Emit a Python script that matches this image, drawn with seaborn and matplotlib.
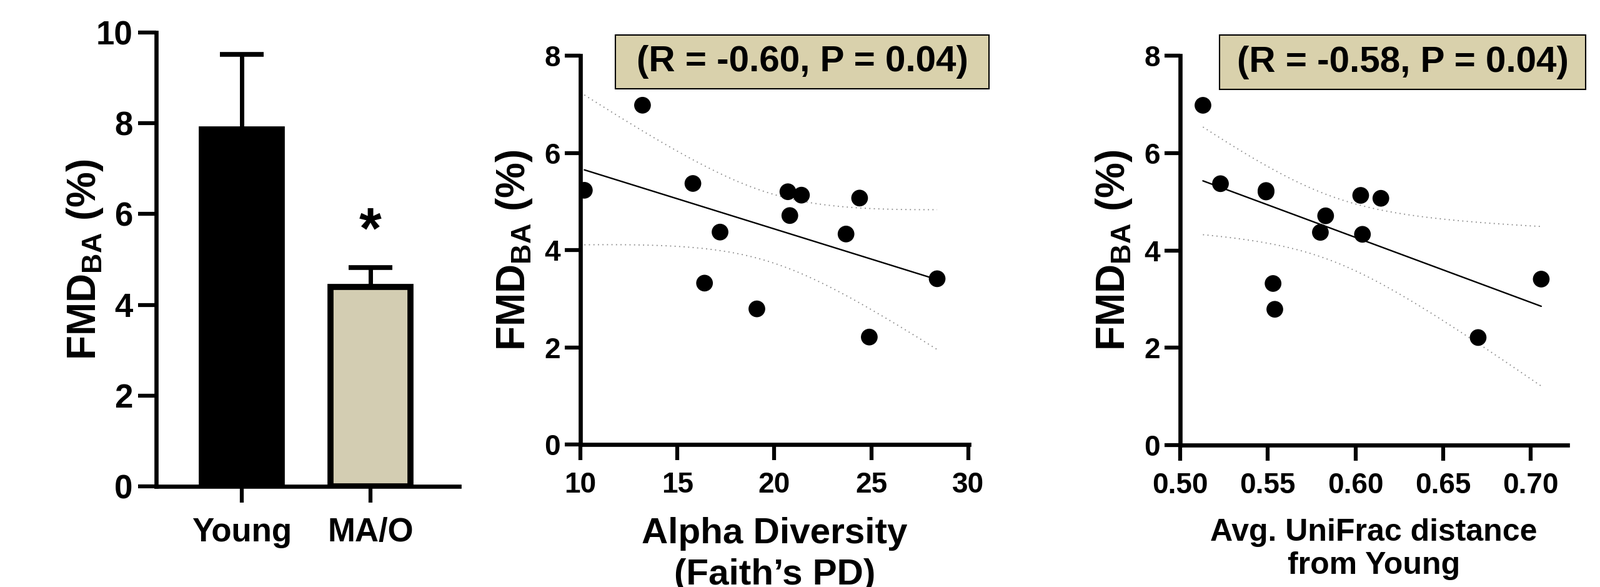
import numpy as np
import matplotlib
matplotlib.use("Agg")
import matplotlib.pyplot as plt
import seaborn as sns
from matplotlib.patches import Rectangle

# FMD vs age group, and FMD vs gut microbiome measures

groups = ["Young", "MA/O"]
fmd_mean = [7.86, 4.40]
fmd_sem = [1.66, 0.42]
bar_colors = ["black", "#d9d1ac"]

# one value per MA/O subject, same order in both scatter panels
fmd = [5.23, 6.98, 5.37, 4.37, 3.32, 2.79, 5.20, 4.71, 5.13, 5.07, 4.33, 2.21, 3.41]
faith_pd = [10.2, 13.2, 15.8, 17.2, 16.4, 19.1, 20.7, 20.8, 21.4, 24.4, 23.7, 24.9, 28.4]
unifrac = [0.549, 0.513, 0.523, 0.580, 0.553, 0.554, 0.549, 0.583, 0.603, 0.6145, 0.604, 0.670, 0.706]

stats_text = ["(R = -0.60, P = 0.04)", "(R = -0.58, P = 0.04)"]
ylab = "FMD$_{\\mathrm{BA}}$ (%)"
tan = "#d9d1ac"

sns.set_style("ticks")
plt.rcParams["font.family"] = ["Liberation Sans", "DejaVu Sans"]
plt.rcParams["font.weight"] = "bold"
plt.rcParams["mathtext.fontset"] = "custom"
plt.rcParams["mathtext.rm"] = "Liberation Sans:bold"
plt.rcParams["mathtext.bf"] = "Liberation Sans:bold"
for key in ("text.color", "axes.labelcolor", "axes.edgecolor", "xtick.color", "ytick.color"):
    plt.rcParams[key] = "black"

fig = plt.figure(figsize=(25.61, 9.39), dpi=100)
ax1 = fig.add_axes([0.0976, 0.1714, 0.1894, 0.7732])
ax2 = fig.add_axes([0.3628, 0.2428, 0.2429, 0.6624])
ax3 = fig.add_axes([0.7376, 0.2417, 0.2421, 0.6635])

# --- bar panel ---
sns.barplot(x=groups, y=fmd_mean, hue=groups, palette=bar_colors, width=0.62,
            edgecolor="black", linewidth=7, errorbar=None, legend=False,
            ax=ax1, zorder=3)
ax1.errorbar(range(len(groups)), fmd_mean, yerr=fmd_sem, fmt="none", ecolor="black",
             elinewidth=5, capsize=25, capthick=5.5, zorder=2)
ax1.text(1, 5.26, "*", ha="center", va="baseline", fontsize=66, fontweight="bold")
ax1.set_xlim(-0.665, 1.69)
ax1.set_ylim(0, 10)
ax1.set_yticks(range(0, 11, 2))
ax1.set_ylabel(ylab, fontsize=46, fontweight="bold")
ax1.yaxis.set_label_coords(-0.168, 0.5)
ax1.tick_params(axis="y", labelsize=38, width=4.5, length=21, pad=6)
ax1.tick_params(axis="x", labelsize=38, width=4.5, length=19, pad=16)

# --- scatter panels ---
def corr_panel(ax, x, y, xlim, xticks, xfmt, xlabel, xlabsize, lsp, txt, box):
    x = np.asarray(x)
    y = np.asarray(y)
    sns.regplot(x=x, y=y, ci=None, color="black", ax=ax,
                scatter_kws=dict(s=370, edgecolor="none", alpha=1, zorder=3),
                line_kws=dict(lw=1.7, zorder=2))
    # 95% confidence band of the fit, drawn as dotted lines
    n = len(x)
    b, a = np.polyfit(x, y, 1)
    resid = y - (a + b * x)
    s = np.sqrt(np.sum(resid ** 2) / (n - 2))
    xs = np.linspace(x.min(), x.max(), 100)
    se = s * np.sqrt(1 / n + (xs - x.mean()) ** 2 / np.sum((x - x.mean()) ** 2))
    t = 2.201  # t(0.975, df=11)
    for sign in (1, -1):
        ax.plot(xs, a + b * xs + sign * t * se, color="#8c8c8c", lw=1.3,
                ls=(0, (1, 3)), zorder=1)
    ax.set_xlim(*xlim)
    ax.set_ylim(0, 8)
    ax.set_xticks(xticks)
    ax.set_xticklabels([xfmt.format(v) for v in xticks])
    ax.set_yticks(range(0, 9, 2))
    ax.tick_params(labelsize=33, width=4.5, length=18, pad=5)
    ax.tick_params(axis="x", pad=13)
    ax.set_ylabel(ylab, fontsize=46, fontweight="bold")
    ax.yaxis.set_label_coords(-0.119, 0.5)
    ax.set_xlabel(xlabel, fontsize=xlabsize, fontweight="bold", linespacing=lsp)
    ax.xaxis.set_label_coords(0.5, -0.187)
    x0, y0, x1, y1 = box
    ax.add_patch(Rectangle((x0, y0), x1 - x0, y1 - y0, transform=ax.transAxes,
                           facecolor=tan, edgecolor="black", lw=1.5, clip_on=False,
                           zorder=4))
    ax.text((x0 + x1) / 2, (y0 + y1) / 2, txt, transform=ax.transAxes,
            ha="center", va="center", fontsize=42, fontweight="bold", zorder=5)

corr_panel(ax2, faith_pd, fmd, (10, 30.05), [10, 15, 20, 25, 30], "{:d}",
           "Alpha Diversity\n(Faith\u2019s PD)", 42, 1.28, stats_text[0],
           (0.090, 0.915, 1.051, 1.053))
corr_panel(ax3, unifrac, fmd, (0.50, 0.721), [0.50, 0.55, 0.60, 0.65, 0.70], "{:.2f}",
           "Avg. UniFrac distance\nfrom Young", 36, 1.2, stats_text[1],
           (0.1016, 0.913, 1.047, 1.053))

for ax in (ax1, ax2, ax3):
    sns.despine(ax=ax)
    for sp in ("left", "bottom"):
        ax.spines[sp].set_linewidth(4.8)

fig.savefig("out.png", dpi=100)
